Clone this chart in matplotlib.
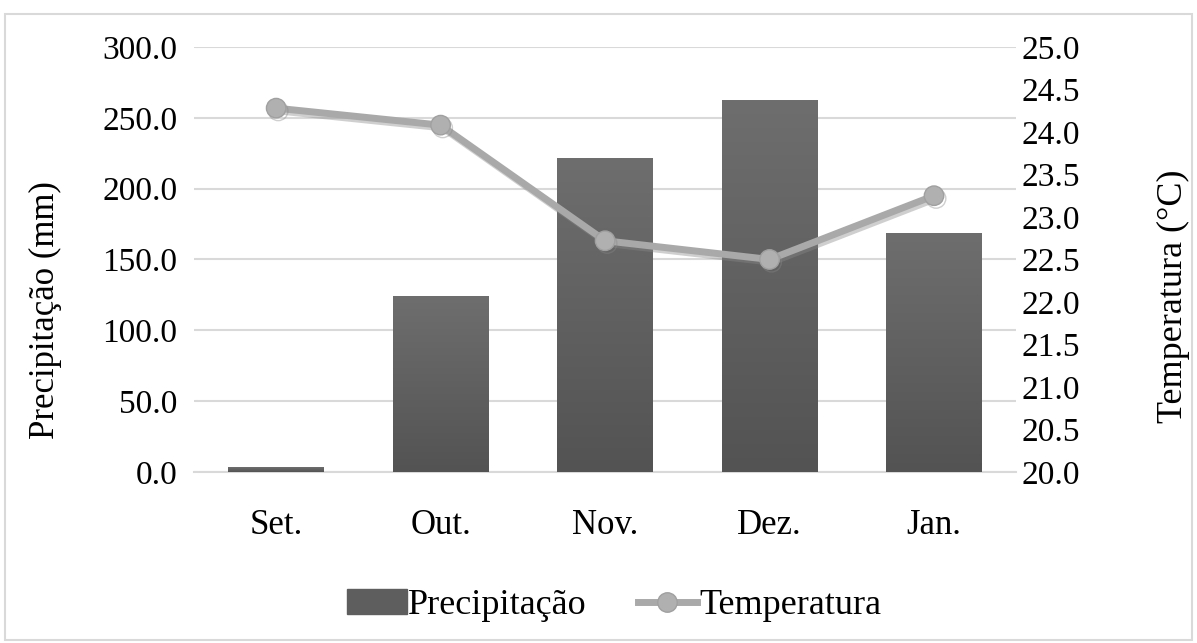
import numpy as np
import matplotlib
matplotlib.use('Agg')
import matplotlib.pyplot as plt
import matplotlib.patheffects as pe
from matplotlib.patches import Rectangle
from matplotlib.lines import Line2D

plt.rcParams['font.family'] = ['Liberation Serif', 'DejaVu Serif']

meses = ['Set.', 'Out.', 'Nov.', 'Dez.', 'Jan.']
precipitacao = [3.5, 124.0, 221.5, 262.5, 168.5]
temperatura = [24.28, 24.08, 22.72, 22.50, 23.25]

fig = plt.figure(figsize=(11.97, 6.43), dpi=100)
ax = fig.add_axes([0.162, 0.266, 0.687, 0.661])
ax2 = ax.twinx()

x = np.arange(len(meses))
bars = ax.bar(x, precipitacao, width=0.58, color='#5e5e5e', zorder=2)

# gradiente vertical nas barras
grad = np.linspace(0, 1, 256).reshape(-1, 1)
cmap = matplotlib.colors.LinearSegmentedColormap.from_list('g', ['#535353', '#6e6e6e'])
for b in bars:
    bx, by = b.get_x(), b.get_y()
    w, h = b.get_width(), b.get_height()
    im = ax.imshow(grad, extent=[bx, bx + w, by, by + h], origin='lower',
                   cmap=cmap, aspect='auto', zorder=3)
    im.set_clip_path(b)

ax.set_xlim(-0.5, len(meses) - 0.5)
ax.set_ylim(0, 300)
ax.set_yticks(np.arange(0, 301, 50))
ax.set_yticklabels(['%.1f' % v for v in np.arange(0, 301, 50)])
ax.grid(axis='y', color='#d9d9d9', linewidth=1.5, zorder=0)
ax.set_axisbelow(True)
ax.set_xticks(x)
ax.set_xticklabels(meses)

ax2.plot(x, temperatura, color='#a9a9a9', linewidth=5, marker='o', markersize=14,
         markerfacecolor='#b0b0b0', markeredgecolor='#a0a0a0', zorder=5,
         path_effects=[pe.SimpleLineShadow(offset=(1.5, -2), shadow_color='#888888', alpha=0.4),
                       pe.Normal()])
ax2.set_ylim(20, 25)
ax2.set_yticks(np.arange(20, 25.01, 0.5))
ax2.set_yticklabels(['%.1f' % v for v in np.arange(20, 25.01, 0.5)])

for a in (ax, ax2):
    for s in a.spines.values():
        s.set_visible(False)
    a.tick_params(length=0, labelsize=24, colors='black')
ax.spines['bottom'].set_visible(True)
ax.spines['bottom'].set_color('#d9d9d9')
ax.spines['bottom'].set_linewidth(1.5)
ax.tick_params(axis='y', pad=12)
ax.tick_params(axis='x', pad=27, labelsize=25)
ax2.tick_params(axis='y', pad=4)

ax.set_ylabel('Precipitação (mm)', fontsize=25)
ax.yaxis.set_label_coords(-0.161, 0.38)
ax2.set_ylabel('Temperatura (°C)', fontsize=26)
ax2.yaxis.set_label_coords(1.1715, 0.414)

bar_h = Rectangle((0, 0), 1, 1, color='#5e5e5e')
line_h = Line2D([], [], color='#a9a9a9', linewidth=5, marker='o', markersize=14,
                markerfacecolor='#b0b0b0', markeredgecolor='#a0a0a0')
fig.legend([bar_h, line_h], ['Precipitação', 'Temperatura'], loc='center',
           bbox_to_anchor=(0.513, 0.058), ncol=2, frameon=False, fontsize=26,
           handlelength=1.65, handletextpad=0.05, columnspacing=1.4)

# moldura externa
fig.patches.append(Rectangle((0.004, 0.004), 0.992, 0.975, transform=fig.transFigure,
                             fill=False, edgecolor='#d9d9d9', linewidth=1.5))

fig.savefig('out.png', dpi=100)
